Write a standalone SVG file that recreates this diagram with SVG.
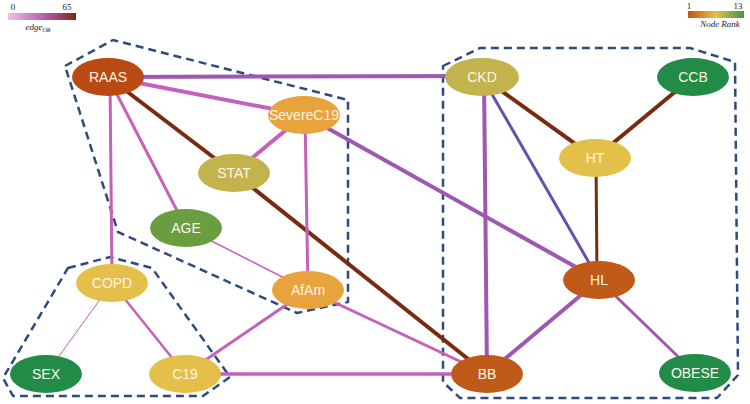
<svg xmlns="http://www.w3.org/2000/svg" width="750" height="404" viewBox="0 0 750 404">
<defs>
<linearGradient id="gEdge" x1="0" x2="1" y1="0" y2="0">
<stop offset="0" stop-color="#EBC3E6"/><stop offset="0.55" stop-color="#B45AAE"/><stop offset="1" stop-color="#7A2A10"/>
</linearGradient>
<linearGradient id="gNode" x1="0" x2="1" y1="0" y2="0">
<stop offset="0" stop-color="#C0561A"/><stop offset="0.5" stop-color="#E4C04A"/><stop offset="1" stop-color="#3A9A4A"/>
</linearGradient>
<style>
.hull{fill:none;stroke:#2E4A7E;stroke-width:2.5;stroke-dasharray:8 5;stroke-linejoin:round}
.e{fill:none;stroke-linecap:butt}
.pk{stroke:#C561BA}
.pu{stroke:#A057B2}
.bl{stroke:#6A4FB0}
.br{stroke:#7A2A0E}
.lbl{font-family:"Liberation Sans",Arial,sans-serif;font-size:14px;fill:#FFF6E8;text-anchor:middle;dominant-baseline:central}
.leg{font-family:"Liberation Serif",serif;font-size:9px;fill:#222}
</style>
</defs>
<rect width="750" height="404" fill="#fff"/>
<g id="legend-edge">
<text class="leg" x="13" y="10" text-anchor="middle">0</text>
<text class="leg" x="67" y="10" text-anchor="middle">65</text>
<rect x="8" y="13" width="68" height="7" fill="url(#gEdge)"/>
<text class="leg" x="38" y="30" text-anchor="middle" font-style="italic">edge<tspan font-size="6" dy="2">OR</tspan></text>
</g>
<g id="legend-node">
<text class="leg" x="689" y="9" text-anchor="middle">1</text>
<text class="leg" x="738" y="9" text-anchor="middle">13</text>
<rect x="688" y="11" width="56" height="7" fill="url(#gNode)"/>
<text class="leg" x="720" y="27" text-anchor="middle" font-style="italic" font-size="8">Node Rank</text>
</g>
<g id="hulls">
<polygon class="hull" points="65,66 113,40 348,100 348,302 297,313 118,232"/>
<polygon class="hull" points="443,66 480,48 690,48 735,62 738,375 717,398 460,398 443,382"/>
<polygon class="hull" points="68,268 110,257 152,268 230,377 203,396 13,396 3,378"/>
</g>
<g id="edges">
<line class="e pu" x1="108" y1="77" x2="482" y2="76" stroke-width="4"/>
<line class="e pk" x1="108" y1="77" x2="304" y2="115" stroke-width="4"/>
<line class="e br" x1="108" y1="77" x2="234" y2="173" stroke-width="4"/>
<line class="e br" x1="234" y1="173" x2="487" y2="374" stroke-width="4"/>
<line class="e pk" x1="108" y1="77" x2="186" y2="228" stroke-width="3"/>
<line class="e pk" x1="110" y1="77" x2="112" y2="283" stroke-width="3"/>
<line class="e pk" x1="304" y1="115" x2="234" y2="173" stroke-width="4"/>
<line class="e pk" x1="305" y1="115" x2="308" y2="290" stroke-width="3"/>
<line class="e pu" x1="304" y1="115" x2="599" y2="280" stroke-width="4"/>
<line class="e pk" x1="186" y1="228" x2="308" y2="290" stroke-width="1.5"/>
<line class="e pk" x1="308" y1="290" x2="185" y2="374" stroke-width="3"/>
<line class="e pk" x1="308" y1="290" x2="487" y2="374" stroke-width="3"/>
<line class="e pk" x1="112" y1="283" x2="46" y2="374" stroke-width="1"/>
<line class="e pk" x1="112" y1="283" x2="185" y2="374" stroke-width="2.5"/>
<line class="e pk" x1="185" y1="374" x2="487" y2="374" stroke-width="3.5"/>
<line class="e pu" x1="484" y1="77" x2="487" y2="374" stroke-width="4"/>
<line class="e bl" x1="482" y1="77" x2="599" y2="280" stroke-width="3"/>
<line class="e br" x1="482" y1="77" x2="595" y2="158" stroke-width="4"/>
<line class="e br" x1="693" y1="77" x2="595" y2="158" stroke-width="4"/>
<line class="e br" x1="596" y1="158" x2="597" y2="280" stroke-width="3"/>
<line class="e pu" x1="599" y1="280" x2="487" y2="374" stroke-width="4"/>
<line class="e pu" x1="599" y1="280" x2="695" y2="373" stroke-width="3"/>
</g>
<g id="RAAS"><ellipse cx="108" cy="77" rx="36" ry="19" fill="#B84A12"/><text class="lbl" x="108" y="77">RAAS</text></g>
<g id="SevereC19"><ellipse cx="304" cy="115" rx="36" ry="19" fill="#E8A33C"/><text class="lbl" x="304" y="115">SevereC19</text></g>
<g id="STAT"><ellipse cx="234" cy="173" rx="36" ry="19" fill="#C3B34C"/><text class="lbl" x="234" y="173">STAT</text></g>
<g id="AGE"><ellipse cx="186" cy="228" rx="36" ry="19" fill="#6A9D40"/><text class="lbl" x="186" y="228">AGE</text></g>
<g id="CKD"><ellipse cx="482" cy="77" rx="37" ry="19" fill="#C3B34C"/><text class="lbl" x="482" y="77">CKD</text></g>
<g id="CCB"><ellipse cx="693" cy="77" rx="36" ry="19" fill="#218B47"/><text class="lbl" x="693" y="77">CCB</text></g>
<g id="HT"><ellipse cx="595" cy="158" rx="36" ry="19" fill="#E4C04A"/><text class="lbl" x="595" y="158">HT</text></g>
<g id="COPD"><ellipse cx="112" cy="283" rx="36" ry="19" fill="#E4C04A"/><text class="lbl" x="112" y="283">COPD</text></g>
<g id="AfAm"><ellipse cx="308" cy="290" rx="36" ry="19" fill="#E8A33C"/><text class="lbl" x="308" y="290">AfAm</text></g>
<g id="SEX"><ellipse cx="46" cy="374" rx="36" ry="19" fill="#218B47"/><text class="lbl" x="46" y="374">SEX</text></g>
<g id="C19"><ellipse cx="185" cy="374" rx="36" ry="19" fill="#E4C04A"/><text class="lbl" x="185" y="374">C19</text></g>
<g id="BB"><ellipse cx="487" cy="374" rx="36" ry="19" fill="#C05A18"/><text class="lbl" x="487" y="374">BB</text></g>
<g id="HL"><ellipse cx="599" cy="280" rx="36" ry="19" fill="#C05A18"/><text class="lbl" x="599" y="280">HL</text></g>
<g id="OBESE"><ellipse cx="695" cy="373" rx="36" ry="19" fill="#218B47"/><text class="lbl" x="695" y="373">OBESE</text></g>
</svg>
